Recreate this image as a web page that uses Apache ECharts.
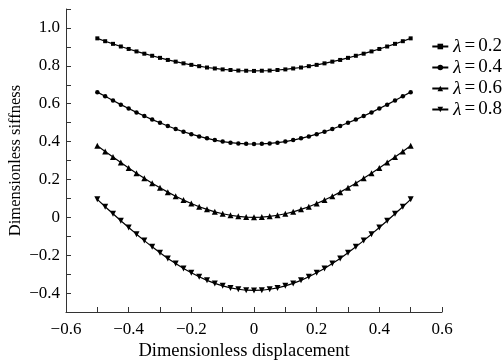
<!DOCTYPE html>
<html><head><meta charset="utf-8">
<script src="https://cdn.jsdelivr.net/npm/echarts@6/dist/echarts.min.js"></script>
<style>html,body{margin:0;padding:0;background:#fff}#c{width:504px;height:360px}</style>
</head><body><div id="c"></div>
<script>
var xValues = [-0.5,-0.475,-0.45,-0.425,-0.4,-0.375,-0.35,-0.325,-0.3,-0.275,-0.25,-0.225,-0.2,-0.175,-0.15,-0.125,-0.1,-0.075,-0.05,-0.025,0,0.025,0.05,0.075,0.1,0.125,0.15,0.175,0.2,0.225,0.25,0.275,0.3,0.325,0.35,0.375,0.4,0.425,0.45,0.475,0.5];
var k02 = [0.945,0.930,0.916,0.902,0.889,0.876,0.864,0.853,0.842,0.831,0.822,0.813,0.805,0.798,0.791,0.786,0.781,0.778,0.775,0.774,0.773,0.774,0.775,0.778,0.781,0.786,0.791,0.798,0.805,0.813,0.822,0.831,0.842,0.853,0.864,0.876,0.889,0.902,0.916,0.930,0.945];
var k04 = [0.661,0.639,0.617,0.595,0.575,0.554,0.535,0.516,0.499,0.482,0.466,0.452,0.439,0.427,0.417,0.408,0.400,0.394,0.390,0.388,0.387,0.388,0.390,0.394,0.400,0.408,0.417,0.427,0.439,0.452,0.466,0.482,0.499,0.516,0.535,0.554,0.575,0.595,0.617,0.639,0.661];
var k06 = [0.378,0.348,0.318,0.289,0.260,0.233,0.206,0.180,0.156,0.133,0.111,0.091,0.073,0.056,0.042,0.029,0.019,0.011,0.005,0.001,0.000,0.001,0.005,0.011,0.019,0.029,0.042,0.056,0.073,0.091,0.111,0.133,0.156,0.180,0.206,0.233,0.260,0.289,0.318,0.348,0.378];
var k08 = [0.095,0.056,0.019,-0.018,-0.054,-0.089,-0.123,-0.156,-0.187,-0.217,-0.244,-0.270,-0.293,-0.314,-0.333,-0.349,-0.362,-0.373,-0.380,-0.385,-0.386,-0.385,-0.380,-0.373,-0.362,-0.349,-0.333,-0.314,-0.293,-0.270,-0.244,-0.217,-0.187,-0.156,-0.123,-0.089,-0.054,-0.018,0.019,0.056,0.095];
var seriesNames = ['λ=0.2','λ=0.4','λ=0.6','λ=0.8'];
var xTickLabels = ['\u22120.6','\u22120.4','\u22120.2','0','0.2','0.4','0.6'];
var yTickLabels = ['\u22120.4','\u22120.2','0','0.2','0.4','0.6','0.8','1.0'];

var FONT = 'Liberation Serif';
function pairs(ys){ return xValues.map(function(x,i){ return [x, ys[i]]; }); }
function fmt(v, list){
  var n = Math.round(v*10);
  if (n % 2 !== 0) return '';
  var s = n === 0 ? '0' : (Math.abs(n)/10).toFixed(1);
  if (n < 0) s = '\u2212' + s;
  return list.indexOf(s) >= 0 ? s : '';
}
var symbols = [['rect',4,0],['circle',4.5,0],['triangle',6,0],['triangle',6,180]];
var datas = [k02,k04,k06,k08];
var series = datas.map(function(d,i){
  return {
    name: seriesNames[i], type:'line', data: pairs(d),
    symbol: symbols[i][0], symbolSize: symbols[i][1], symbolRotate: symbols[i][2],
    showAllSymbol: true,
    lineStyle:{color:'#000', width:1.2}, itemStyle:{color:'#000'},
    animation:false
  };
});
var chart = echarts.init(document.getElementById('c'), null, {renderer:'canvas'});
chart.setOption({
  backgroundColor:'#fff',
  animation:false,
  grid:{left:66, right:62, top:9, bottom:48, containLabel:false, outerBoundsMode:'none'},
  legend:{
    orient:'vertical', right:2, top:37, padding:0, itemWidth:16, itemHeight:7, itemGap:2,
    data: seriesNames,
    formatter: function(n){ return '{i|λ}{e|=}' + n.split('=')[1]; },
    textStyle:{fontFamily:FONT, fontSize:19, lineHeight:17, color:'#000',
      rich:{
        i:{fontFamily:FONT, fontStyle:'italic', fontSize:19, lineHeight:17, color:'#000'},
        e:{fontFamily:FONT, fontSize:19, lineHeight:17, color:'#000', padding:[0,3,0,3]}
      }}
  },
  xAxis:{
    type:'value', min:-0.6, max:0.6, interval:0.1,
    name:'Dimensionless displacement', nameLocation:'middle', nameGap:30, nameMoveOverlap:false,
    nameTextStyle:{fontFamily:FONT, fontSize:18.5, color:'#000', padding:[0,20,0,0]},
    axisLine:{onZero:false, lineStyle:{color:'#333', width:1}},
    axisTick:{inside:true, length:5, lineStyle:{color:'#333'}},
    axisLabel:{fontFamily:FONT, fontSize:17, color:'#000', margin:9,
      formatter:function(v){ return fmt(v, xTickLabels); }},
    splitLine:{show:false}
  },
  yAxis:{
    type:'value', min:-0.5, max:1.1, interval:0.1,
    name:'Dimensionless siffness', nameLocation:'middle', nameGap:42, nameMoveOverlap:false,
    nameTextStyle:{fontFamily:FONT, fontSize:16.5, color:'#000'},
    axisLine:{show:true, onZero:false, lineStyle:{color:'#333', width:1}},
    axisTick:{show:true, inside:true, length:5, lineStyle:{color:'#333'}},
    axisLabel:{fontFamily:FONT, fontSize:17, color:'#000', margin:6,
      formatter:function(v){ return fmt(v, yTickLabels); }},
    splitLine:{show:false}
  },
  series: series
});
</script></body></html>
